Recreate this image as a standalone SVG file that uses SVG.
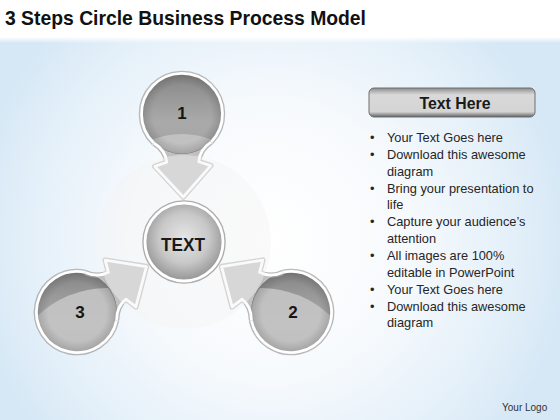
<svg xmlns="http://www.w3.org/2000/svg" width="560" height="420" viewBox="0 0 560 420">
<defs>
<style>
.title{font-family:"Liberation Sans",Arial,sans-serif;font-weight:bold;font-size:21px;fill:#111}
.num{font-family:"Liberation Sans",Arial,sans-serif;font-weight:bold;font-size:17px;fill:#151515;text-anchor:middle}
.ctext{font-family:"Liberation Sans",Arial,sans-serif;font-weight:bold;font-size:19px;fill:#1a1a1a;text-anchor:middle}
.btn{font-family:"Liberation Sans",Arial,sans-serif;font-weight:bold;font-size:16.5px;fill:#1a1a1a;text-anchor:middle}
.body{font-family:"Liberation Sans",Arial,sans-serif;font-size:12.8px;fill:#262626}
.logo{font-family:"Liberation Sans",Arial,sans-serif;font-size:10px;fill:#333}
.rimShadow{fill:none;stroke:#a3a3a3;stroke-width:5.5;stroke-opacity:.75;stroke-linejoin:round}
.rim{fill:none;stroke:#fff;stroke-width:2.8;stroke-linejoin:round}
.arrowFill{fill:#c0c0c0}
.gloss{fill:#c4c4c4;opacity:.9}
</style>
<radialGradient id="bg" gradientUnits="userSpaceOnUse" cx="270" cy="240" r="300">
<stop offset="0" stop-color="#ffffff"/>
<stop offset="0.45" stop-color="#f7fafd"/>
<stop offset="0.8" stop-color="#e4f0f9"/>
<stop offset="1" stop-color="#d6e8f6"/>
</radialGradient>
<linearGradient id="topFade" x1="0" y1="0" x2="0" y2="1">
<stop offset="0" stop-color="#fff" stop-opacity="1"/>
<stop offset="1" stop-color="#fff" stop-opacity="0"/>
</linearGradient>
<linearGradient id="dropFill" x1="0" y1="0" x2="0" y2="1">
<stop offset="0" stop-color="#858585"/>
<stop offset="0.3" stop-color="#999"/>
<stop offset="0.6" stop-color="#aaa"/>
<stop offset="1" stop-color="#a2a2a2"/>
</linearGradient>
<radialGradient id="vignette" cx="0.5" cy="0.5" r="0.5">
<stop offset="0.72" stop-color="#000" stop-opacity="0"/>
<stop offset="1" stop-color="#000" stop-opacity="0.16"/>
</radialGradient>
<radialGradient id="centerFill" cx="0.5" cy="0.45" r="0.58">
<stop offset="0" stop-color="#e6e6e6"/>
<stop offset="0.55" stop-color="#c8c8c8"/>
<stop offset="1" stop-color="#8e8e8e"/>
</radialGradient>
<linearGradient id="btnFill" x1="0" y1="0" x2="0" y2="1">
<stop offset="0" stop-color="#8a8a8a"/>
<stop offset="0.14" stop-color="#bcbcbc"/>
<stop offset="0.24" stop-color="#d9d9d9"/>
<stop offset="0.82" stop-color="#d4d4d4"/>
<stop offset="0.93" stop-color="#8e8e8e"/>
<stop offset="1" stop-color="#5e5e5e"/>
</linearGradient>
<clipPath id="dropClip"><circle r="39.4"/></clipPath>
</defs>

<g id="background">
<rect width="560" height="420" fill="#fff"/>
<rect y="37" width="560" height="383" fill="url(#bg)"/>
<rect y="37" width="560" height="6" fill="url(#topFade)"/>
</g>

<g id="title"><text class="title" x="5" y="25" textLength="361" lengthAdjust="spacingAndGlyphs">3 Steps Circle Business Process Model</text></g>

<g id="step1" transform="translate(182,114)">
<g transform="rotate(-0.9)"><path class="rimShadow" d="M28.6 28.6 A40.5 40.5 0 1 0 -28.6 28.6"/></g>
<circle r="40.5" fill="url(#dropFill)"/>
<circle cx="0" cy="100" r="80" class="gloss" clip-path="url(#dropClip)"/>
<circle r="40.5" fill="url(#vignette)"/>
<g transform="rotate(-0.9)"><path class="rim" d="M28.6 28.6 A40.5 40.5 0 1 0 -28.6 28.6"/></g>
<text class="num" y="5">1</text>
</g>

<g id="step2" transform="translate(291,312)">
<g transform="rotate(123.2)"><path class="rimShadow" d="M28.6 28.6 A40.5 40.5 0 1 0 -28.6 28.6"/></g>
<circle r="40.5" fill="url(#dropFill)"/>
<circle cx="-30" cy="76" r="100" class="gloss" clip-path="url(#dropClip)"/>
<circle r="40.5" fill="url(#vignette)"/>
<g transform="rotate(123.2)"><path class="rim" d="M28.6 28.6 A40.5 40.5 0 1 0 -28.6 28.6"/></g>
<text class="num" x="2" y="6">2</text>
</g>

<g id="step3" transform="translate(77,312)">
<g transform="rotate(236.8)"><path class="rimShadow" d="M28.6 28.6 A40.5 40.5 0 1 0 -28.6 28.6"/></g>
<circle r="40.5" fill="url(#dropFill)"/>
<circle cx="30" cy="76" r="100" class="gloss" clip-path="url(#dropClip)"/>
<circle r="40.5" fill="url(#vignette)"/>
<g transform="rotate(236.8)"><path class="rim" d="M28.6 28.6 A40.5 40.5 0 1 0 -28.6 28.6"/></g>
<text class="num" x="3" y="6">3</text>
</g>

<g id="connectors">
<g transform="translate(182,114) rotate(-0.9)">
<path class="rimShadow" d="M28.6 28.6 Q17 36 16 48 L28 52 L0 83 L-28 52 L-16 48 Q-17 36 -28.6 28.6"/>
<path class="arrowFill" d="M28.6 28.6 Q17 36 16 48 L28 52 L0 83 L-28 52 L-16 48 Q-17 36 -28.6 28.6 A40.5 40.5 0 0 0 28.6 28.6Z"/>
<path class="rim" d="M28.6 28.6 Q17 36 16 48 L28 52 L0 83 L-28 52 L-16 48 Q-17 36 -28.6 28.6"/>
</g>
<g transform="translate(291,312) rotate(123.2)">
<path class="rimShadow" d="M28.6 28.6 Q17 36 16 48 L28 52 L0 83 L-28 52 L-16 48 Q-17 36 -28.6 28.6"/>
<path class="arrowFill" d="M28.6 28.6 Q17 36 16 48 L28 52 L0 83 L-28 52 L-16 48 Q-17 36 -28.6 28.6 A40.5 40.5 0 0 0 28.6 28.6Z"/>
<path class="rim" d="M28.6 28.6 Q17 36 16 48 L28 52 L0 83 L-28 52 L-16 48 Q-17 36 -28.6 28.6"/>
</g>
<g transform="translate(77,312) rotate(236.8)">
<path class="rimShadow" d="M28.6 28.6 Q17 36 16 48 L28 52 L0 83 L-28 52 L-16 48 Q-17 36 -28.6 28.6"/>
<path class="arrowFill" d="M28.6 28.6 Q17 36 16 48 L28 52 L0 83 L-28 52 L-16 48 Q-17 36 -28.6 28.6 A40.5 40.5 0 0 0 28.6 28.6Z"/>
<path class="rim" d="M28.6 28.6 Q17 36 16 48 L28 52 L0 83 L-28 52 L-16 48 Q-17 36 -28.6 28.6"/>
</g>
</g>

<g id="ring"><circle cx="184" cy="242" r="87" fill="#f3f4f5" opacity="0.45"/></g>

<g id="center">
<circle cx="184" cy="242" r="39" fill="none" stroke="#9a9a9a" stroke-width="5.5" stroke-opacity=".8"/>
<circle cx="184" cy="242" r="39" fill="url(#centerFill)" stroke="#fff" stroke-width="2.8"/>
<text class="ctext" x="183" y="251" textLength="44" lengthAdjust="spacingAndGlyphs">TEXT</text>
</g>

<g id="textPanel">
<rect x="369" y="88" width="166" height="29" rx="5" fill="url(#btnFill)" stroke="#6e6e6e" stroke-width="1"/>
<text class="btn" x="455" y="109" textLength="71" lengthAdjust="spacingAndGlyphs">Text Here</text>
<g class="body">
<text x="370" y="142">•</text><text x="387" y="142">Your Text Goes here</text>
<text x="370" y="158.9">•</text><text x="387" y="158.9">Download this awesome</text>
<text x="387" y="175.7">diagram</text>
<text x="370" y="192.6">•</text><text x="387" y="192.6">Bring your presentation to</text>
<text x="387" y="209.4">life</text>
<text x="370" y="226.3">•</text><text x="387" y="226.3">Capture your audience’s</text>
<text x="387" y="243.1">attention</text>
<text x="370" y="260">•</text><text x="387" y="260">All images are 100%</text>
<text x="387" y="276.8">editable in PowerPoint</text>
<text x="370" y="293.7">•</text><text x="387" y="293.7">Your Text Goes here</text>
<text x="370" y="310.5">•</text><text x="387" y="310.5">Download this awesome</text>
<text x="387" y="327.4">diagram</text>
</g>
</g>

<g id="logo"><text class="logo" x="502" y="411">Your Logo</text></g>
</svg>
